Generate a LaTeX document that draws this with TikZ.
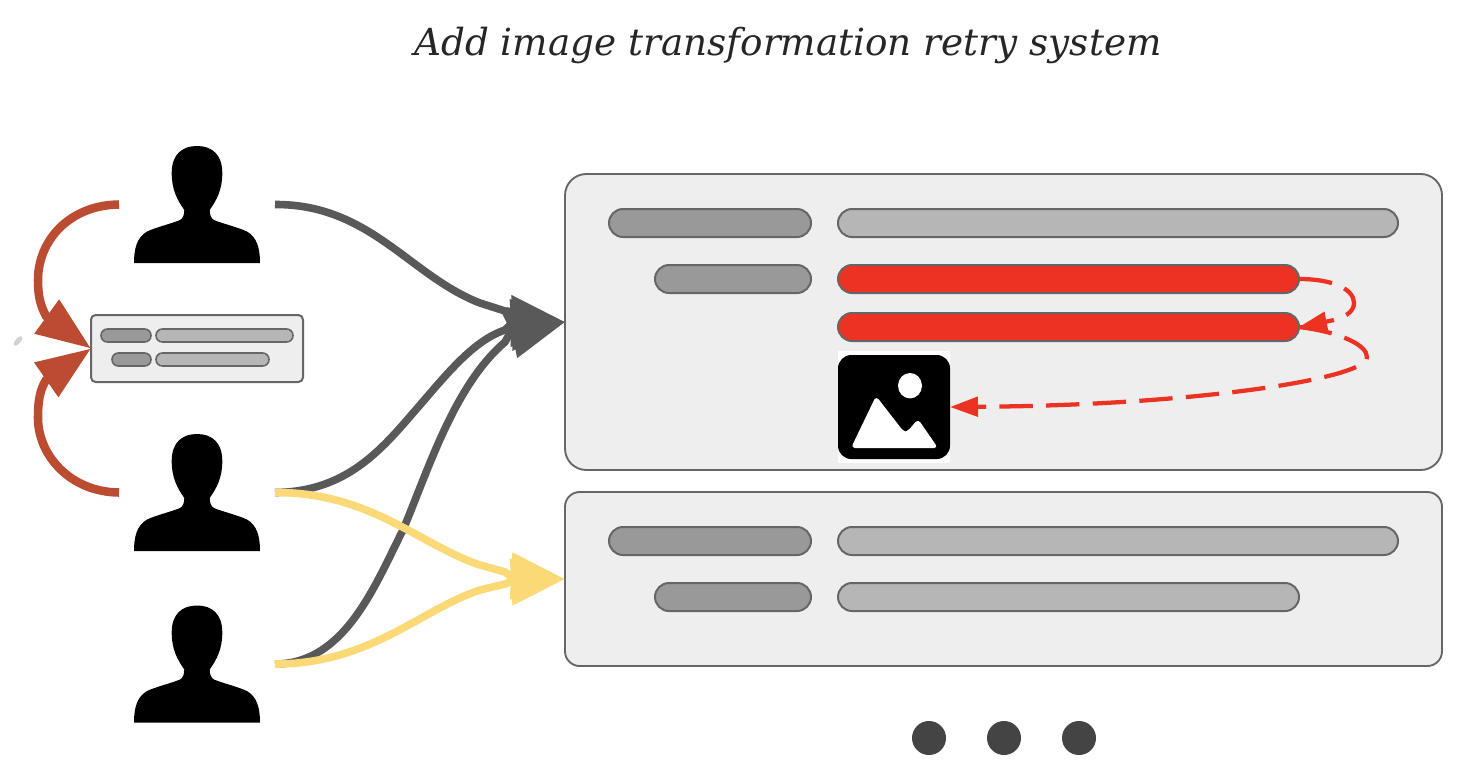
\documentclass[tikz,border=0pt]{standalone}
\usepackage{fontspec}
\setmainfont{DejaVu Serif}
\usetikzlibrary{arrows.meta}
\definecolor{gline}{HTML}{595959}
\definecolor{yline}{HTML}{FBD977}
\definecolor{bline}{HTML}{BC4C31}
\definecolor{rline}{HTML}{EC3323}
\definecolor{panelfill}{HTML}{EEEEEE}
\definecolor{edgec}{HTML}{666666}
\definecolor{darkpill}{HTML}{999999}
\definecolor{lightpill}{HTML}{B6B6B6}
\definecolor{dotc}{HTML}{444444}
\tikzset{
 boxbase/.style={inner sep=0pt,outer sep=0pt,draw=edgec,line width=1.5pt},
 bigpanel/.style={boxbase,fill=panelfill,line width=1.4pt},
 darkbar/.style={boxbase,fill=darkpill,rounded corners=10.5pt},
 lightbar/.style={boxbase,fill=lightpill,rounded corners=10.5pt},
 redbar/.style={boxbase,fill=rline,rounded corners=10.5pt},
 minidark/.style={boxbase,fill=darkpill,rounded corners=4.8pt,line width=1.2pt},
 minilight/.style={boxbase,fill=lightpill,rounded corners=4.8pt,line width=1.2pt},
 graylink/.style={draw=gline,line width=5.7pt,-{Triangle[length=40.5pt,width=37.5pt]}},
 yellowlink/.style={draw=yline,line width=5.7pt,-{Triangle[length=40.5pt,width=34pt]}},
 brownlink/.style={draw=bline,line width=6.4pt,-{Triangle[length=41pt,width=30pt]}},
 redlink/.style={draw=rline,line width=3.2pt,dash pattern=on 25pt off 10pt,-{Triangle[length=21pt,width=14.5pt]}},
 dotnode/.style={circle,fill=dotc,minimum size=25.5pt,inner sep=0pt},
 personbox/.style={inner sep=0pt,outer sep=0pt,minimum width=117pt,minimum height=87.75pt},
}
\newcommand{\rectnode}[6]{%
  \pgfmathsetmacro{\rw}{(#5-#3)*0.75}\pgfmathsetmacro{\rh}{(#6-#4)*0.75}%
  \node[#1,minimum width=\rw pt,minimum height=\rh pt] (#2) at ({(#3+#5)/2},{(#4+#6)/2}) {};}
\newcommand{\personat}[3]{%
  \node[personbox] (#1) at (#2,#3) {};
  \fill[black,shift={(#2,#3)}] (-63,58.5) .. controls (-63,44) and (-60,33) .. (-50.3,27.2)
    .. controls (-42,23) and (-25,19) .. (-17,15.5) .. controls (-14,14) and (-12.7,10) .. (-12.7,5.5)
    .. controls (-20,-5) and (-25.3,-15) .. (-25.3,-31.5) .. controls (-25.3,-50) and (-15,-58.5) .. (0,-58.5)
    .. controls (15,-58.5) and (25.3,-50) .. (25.3,-31.5) .. controls (25.3,-15) and (20,-5) .. (12.7,5.5)
    .. controls (12.7,10) and (14,14) .. (17,15.5) .. controls (25,19) and (42,23) .. (50.3,27.2)
    .. controls (60,33) and (63,44) .. (63,58.5) -- cycle;}
\begin{document}
\begin{tikzpicture}[x=0.75pt,y=-0.75pt]
\useasboundingbox (0,0) rectangle (1470,772);
\fill[white] (0,0) rectangle (1470,772);
\fill[black!18,rotate around={50:(18,341)}] (18,341) ellipse [x radius=6,y radius=2.5];
\node[font=\itshape\fontsize{28}{34}\selectfont,text=black!85,inner sep=0pt] (title) at (788,45) {Add image transformation retry system};
% panels
\rectnode{bigpanel,rounded corners=16pt}{panelA}{565}{174}{1442}{470}
\rectnode{bigpanel,rounded corners=11pt}{panelB}{565}{492}{1442}{666}
\rectnode{boxbase,fill=panelfill,rounded corners=3.5pt}{mini}{91}{315}{303}{382}
% panel A bars
\rectnode{darkbar}{a1}{609}{209}{811}{237}
\rectnode{lightbar}{a2}{838}{209}{1398}{237}
\rectnode{darkbar}{a3}{655}{265}{811}{293}
\rectnode{redbar}{r1}{838}{265}{1299}{293}
\rectnode{redbar}{r2}{838}{313}{1299}{341}
% panel B bars
\rectnode{darkbar}{b1}{609}{527}{811}{555}
\rectnode{lightbar}{b2}{838}{527}{1398}{555}
\rectnode{darkbar}{b3}{655}{583}{811}{611}
\rectnode{lightbar}{b4}{838}{583}{1299}{611}
% mini bars
\rectnode{minidark}{m1}{101}{329}{151}{342}
\rectnode{minilight}{m2}{156}{329}{293}{342}
\rectnode{minidark}{m3}{112}{353}{151}{366}
\rectnode{minilight}{m4}{156}{353}{269}{366}
% image icon
\rectnode{inner sep=0pt,outer sep=0pt,fill=white}{icon}{838}{351}{950}{463}
\fill[black,rounded corners=10pt] (838,355) rectangle (950,459);
\fill[white] (910,385.7) ellipse [x radius=12,y radius=12.7];
\fill[white,rounded corners=3pt] (851,448) -- (876,396) -- (904,432) -- (907,432) -- (918,419) -- (938,448) -- cycle;
% persons
\personat{p1}{197}{204.5}
\personat{p2}{197}{492.5}
\personat{p3}{197}{664}
% brown links
\draw[brownlink] (p1.west) .. controls (70,205) and (38,240) .. (38,280) .. controls (38,295) and (40,305) .. (46,316) -- (mini.west);
\draw[brownlink] (p2.west) .. controls (70,492) and (38,455) .. (38,418) .. controls (38,400) and (40,390) .. (46,380) -- (mini.west);
% gray links
\draw[graylink] (p3.east) .. controls (345,664) and (375,585) .. (403,530) .. controls (430,465) and (455,385) .. (505,342) -- (510,333) -- (panelA.west);
\draw[graylink] (p2.east) .. controls (350,492) and (385,445) .. (420,405) .. controls (450,370) and (475,340) .. (505,330) -- (510,325) -- (panelA.west);
\draw[graylink] (p1.east) .. controls (370,204) and (410,276) .. (480,303) -- (505,311) -- (510,321) -- (panelA.west);
% yellow links
\draw[yellowlink] (p2.east) .. controls (370,492) and (420,545) .. (480,565) -- (505,572) -- (510,576) -- (panelB.west);
\draw[yellowlink] (p3.east) .. controls (370,664) and (420,610) .. (480,590) -- (505,584) -- (510,582) -- (panelB.west);
% red dashed links
\draw[redlink] (r1.east) .. controls (1335,279) and (1354,290) .. (1354,303) .. controls (1354,312) and (1345,318) .. (1327,321.5) -- (r2.east);
\draw[redlink] (r2.east) .. controls (1340,332) and (1367,345) .. (1367,357) .. controls (1367,380) and (1180,406) .. (977,406.7) -- (icon.east);
% dots
\node[dotnode] (d1) at (929,738) {};
\node[dotnode] (d2) at (1004,738) {};
\node[dotnode] (d3) at (1079,738) {};
\end{tikzpicture}
\end{document}
